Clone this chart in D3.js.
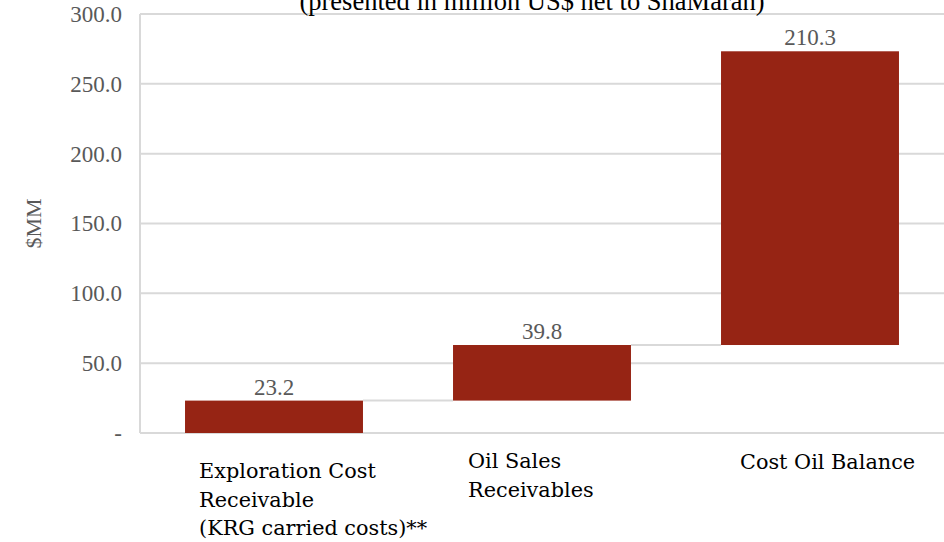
<!DOCTYPE html>
<html>
<head>
<meta charset="utf-8">
<script src="https://cdn.jsdelivr.net/npm/d3@7"></script>
<style>
  html, body { margin: 0; padding: 0; background: #fff; }
  svg { display: block; }
</style>
</head>
<body>
<svg id="chart" width="944" height="542"></svg>
<script>
// Waterfall of receivables net to ShaMaran (US$ millions)
const categories = ["Exploration Cost Receivable (KRG carried costs)**", "Oil Sales Receivables", "Cost Oil Balance"];
const categoryLines = [
  ["Exploration Cost", "Receivable", "(KRG carried costs)**"],
  ["Oil Sales", "Receivables"],
  ["Cost Oil Balance"]
];
const values = [23.2, 39.8, 210.3];
const yTicks = [0, 50, 100, 150, 200, 250, 300];
const titleText = "(presented in million US$ net to ShaMaran)";
const yTitle = "$MM";

const svg = d3.select("#chart");
const margin = { top: 14, right: 0, bottom: 109, left: 140 };
const width = 944, height = 542;

// running totals for the floating bars
let acc = 0;
const steps = values.map((v, i) => {
  const s = { cat: categories[i], lines: categoryLines[i], value: v, start: acc, end: acc + v };
  acc += v;
  return s;
});

const x = d3.scaleBand()
  .domain(categories)
  .range([margin.left, width - margin.right])
  .paddingInner(0.336)
  .paddingOuter(0.168);

const y = d3.scaleLinear()
  .domain([0, 300])
  .range([height - margin.bottom, margin.top]);

const grid = "#d9d9d9";
const serif = "'Liberation Serif', 'Times New Roman', serif";

// horizontal gridlines
svg.append("g")
  .selectAll("line")
  .data(yTicks)
  .join("line")
  .attr("x1", margin.left)
  .attr("x2", width - margin.right)
  .attr("y1", d => y(d))
  .attr("y2", d => y(d))
  .attr("stroke", grid)
  .attr("stroke-width", 2);

// left axis line
svg.append("line")
  .attr("x1", margin.left).attr("x2", margin.left)
  .attr("y1", y(300)).attr("y2", y(0))
  .attr("stroke", grid).attr("stroke-width", 2);

// y tick labels
const yAxis = d3.axisLeft(y)
  .tickValues(yTicks)
  .tickSize(0)
  .tickPadding(18)
  .tickFormat(d => d === 0 ? "-" : d3.format(".1f")(d));
const ag = svg.append("g")
  .attr("transform", `translate(${margin.left},0)`)
  .call(yAxis);
ag.select(".domain").remove();
ag.selectAll("text")
  .attr("font-family", serif)
  .attr("font-size", 23)
  .attr("fill", "#595959");

// connectors between consecutive bars
svg.append("g")
  .selectAll("line")
  .data(steps.slice(0, -1))
  .join("line")
  .attr("x1", d => x(d.cat) + x.bandwidth())
  .attr("x2", (d, i) => x(steps[i + 1].cat))
  .attr("y1", d => y(d.end))
  .attr("y2", d => y(d.end))
  .attr("stroke", grid)
  .attr("stroke-width", 2);

// bars
svg.append("g")
  .selectAll("rect")
  .data(steps)
  .join("rect")
  .attr("x", d => x(d.cat))
  .attr("width", x.bandwidth())
  .attr("y", d => y(d.end))
  .attr("height", d => y(d.start) - y(d.end))
  .attr("fill", "#962414");

// value labels
svg.append("g")
  .selectAll("text")
  .data(steps)
  .join("text")
  .attr("x", d => x(d.cat) + x.bandwidth() / 2)
  .attr("y", d => y(d.end) - 6)
  .attr("text-anchor", "middle")
  .attr("font-family", serif)
  .attr("font-size", 23)
  .attr("fill", "#595959")
  .text(d => d3.format(".1f")(d.value));

// category labels
const catOffsets = [14, 15, 19];
const catTop = [478, 468, 469];
const cg = svg.append("g");
steps.forEach((d, i) => {
  const t = cg.append("text")
    .attr("font-family", "'DejaVu Serif', serif")
    .attr("font-size", 20.8)
    .attr("fill", "#000");
  d.lines.forEach((ln, j) => {
    t.append("tspan")
      .attr("x", x(d.cat) + catOffsets[i])
      .attr("y", catTop[i] + j * 28.5)
      .text(ln);
  });
});

// y axis title, centred on the plot area
svg.append("text")
  .attr("transform", `translate(41,${(y(0) + y(300)) / 2}) rotate(-90)`)
  .attr("text-anchor", "middle")
  .attr("font-family", serif)
  .attr("font-size", 22)
  .attr("fill", "#595959")
  .text(yTitle);

// chart subtitle
svg.append("text")
  .attr("x", 532)
  .attr("y", 10)
  .attr("text-anchor", "middle")
  .attr("font-family", serif)
  .attr("font-size", 26.5)
  .attr("fill", "#000")
  .text(titleText);
</script>
</body>
</html>
